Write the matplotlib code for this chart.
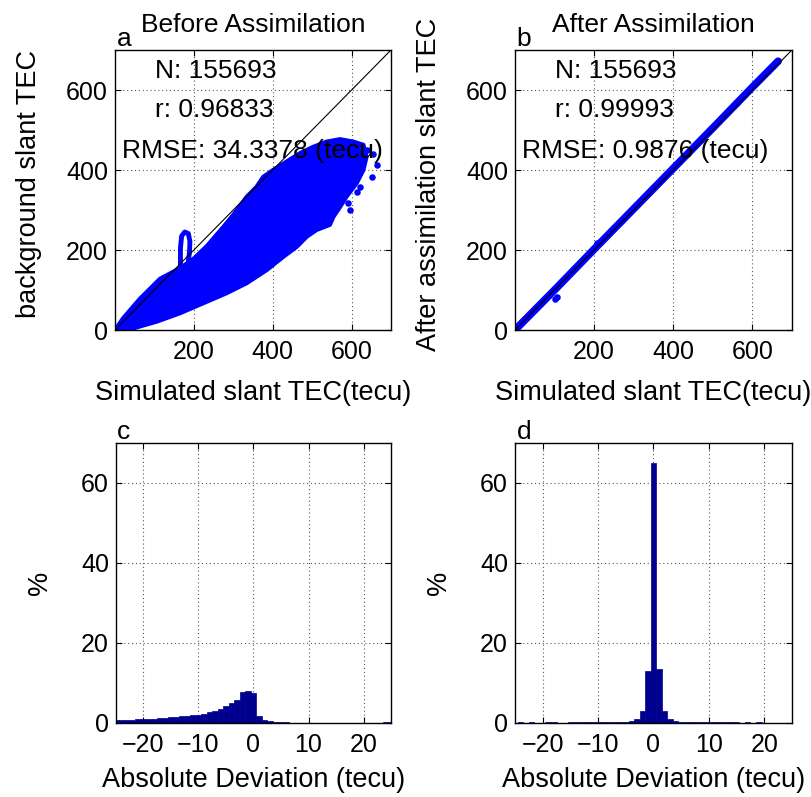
import numpy as np
import matplotlib
matplotlib.use("Agg")
import matplotlib.pyplot as plt

plt.rcParams['font.family'] = ['Liberation Sans', 'DejaVu Sans']

# ---------------- data ----------------
# Panel a: outline of the dense point cloud (simulated, background)
cloud_a_x = [0, 21, 63, 114, 156, 185, 199, 233, 275, 300, 334, 359, 376, 401, 435, 469, 503,
             537, 571, 604, 630, 638, 630, 613, 587, 571, 554, 545, 511, 486, 461, 427,
             385, 334, 283, 224, 165, 106, 46]
cloud_a_y = [0, 30, 78, 128, 150, 168, 178, 210, 258, 288, 333, 358, 383, 400, 421, 442, 458,
             471, 477, 471, 463, 433, 400, 367, 333, 308, 283, 263, 250, 233, 208, 183,
             150, 117, 92, 67, 42, 21, 4]
# loop feature near x~180
loop_a_x = [166, 166, 169, 177, 186, 190, 189, 186]
loop_a_y = [160, 205, 235, 245, 241, 222, 195, 172]
# isolated points on the edge of the cloud
out_a_x = [664, 651, 621, 613, 592, 604, 638, 655, 597, 578]
out_a_y = [412, 383, 358, 346, 317, 412, 450, 440, 300, 330]

# Panel b: narrow band along the 1:1 line
band_b_x = [0, 100, 200, 300, 400, 500, 600, 665]
band_b_y = [0, 100, 202, 303, 404, 505, 607, 672]
bump_b_x = [106, 100, 207, 469, 560, 640]
bump_b_y = [83, 78, 217, 475, 568, 648]

stats_a = ["N: 155693", "r: 0.96833", "RMSE: 34.3378 (tecu)"]
stats_b = ["N: 155693", "r: 0.99993", "RMSE: 0.9876 (tecu)"]

# Histograms (percent per 1-tecu bin)
bin_centers = list(range(-25, 26))
hist_c = [0.8, 0.8, 0.8, 0.8, 1.05, 1.1, 1.1, 1.1, 1.25, 1.25,
          1.5, 1.5, 1.8, 1.8, 2.1, 2.1, 2.3, 2.7, 3.0, 3.6,
          4.3, 5.0, 5.75, 7.75, 8.0, 7.5, 1.7, 0.83, 0.4, 0.25,
          0.25, 0.25, 0.1, 0.1, 0.1, 0.1, 0.1, 0.1, 0.1, 0.1,
          0.1, 0.1, 0.1, 0.1, 0.0, 0.05, 0.05, 0.05, 0.05, 0.25, 0.25]
hist_d = [0.0, 0.3, 0.0, 0.3, 0.0, 0.0, 0.3, 0.3, 0.0, 0.0,
          0.2, 0.2, 0.2, 0.2, 0.2, 0.2, 0.2, 0.2, 0.2, 0.2,
          0.2, 0.5, 1.0, 2.9, 12.9, 65.0, 13.6, 2.9, 1.0, 0.5,
          0.2, 0.2, 0.2, 0.2, 0.2, 0.2, 0.2, 0.2, 0.2, 0.2,
          0.2, 0.0, 0.2, 0.0, 0.2, 0.0, 0.0, 0.0, 0.0, 0.0, 0.0]

# ---------------- figure ----------------
W, H = 812, 797
fig = plt.figure(figsize=(W / 100, H / 100), dpi=100)

def px_axes(left, top, right, bottom):
    return fig.add_axes([left / W, 1 - bottom / H, (right - left) / W, (bottom - top) / H])

ax_a = px_axes(115, 50, 391, 330)
ax_b = px_axes(515, 50, 792, 330)
ax_c = px_axes(116, 443, 391, 723)
ax_d = px_axes(515, 443, 792, 723)

BLUE = (0, 0, 1)
NAVY = '#00008F'
TICK_FS = 18
LABEL_FS = 19.5
TITLE_FS = 19
ANN_FS = 19

def style(ax):
    ax.grid(True, linestyle=(0, (1, 2.5)), linewidth=0.8, color='0.35')
    ax.set_axisbelow(True)
    ax.tick_params(direction='in', length=4, width=0.8, top=True, right=True,
                   labelsize=TICK_FS, pad=7)
    ax.tick_params(axis='y', pad=5)
    for s in ax.spines.values():
        s.set_linewidth(1.0)

# ---- panel a ----
ax_a.fill(cloud_a_x, cloud_a_y, color=BLUE, lw=3, joinstyle='round', zorder=2)
ax_a.plot(loop_a_x, loop_a_y, color=BLUE, lw=3.5, solid_capstyle='round', zorder=2)
ax_a.scatter(out_a_x, out_a_y, s=22, color=BLUE, zorder=2, linewidths=0)
ax_a.plot([0, 700], [0, 700], color='k', lw=0.8, zorder=3)

# ---- panel b ----
ax_b.plot(band_b_x, band_b_y, color=BLUE, lw=5.5, solid_capstyle='round', zorder=2)
ax_b.scatter(bump_b_x, bump_b_y, s=22, color=BLUE, zorder=2, linewidths=0)
ax_b.plot([0, 700], [0, 700], color='k', lw=0.8, zorder=3)

ann_x = [102, 102, 17]
ann_y = [629, 532, 429]
for ax, stats in ((ax_a, stats_a), (ax_b, stats_b)):
    for t, x, y in zip(stats, ann_x, ann_y):
        ax.text(x, y, t, fontsize=ANN_FS, ha='left', va='baseline', zorder=5)
    ax.set_xlim(0, 700)
    ax.set_ylim(0, 700)
    ax.set_xticks([200, 400, 600])
    ax.set_yticks([0, 200, 400, 600])
    style(ax)
    ax.set_xlabel("Simulated slant TEC(tecu)", fontsize=LABEL_FS)
    ax.xaxis.set_label_coords(0.5, -0.25)
    ax.xaxis.label.set_va('baseline')

ax_a.set_title("Before Assimilation", fontsize=TITLE_FS, pad=13)
ax_b.set_title("After Assimilation", fontsize=TITLE_FS, pad=13)
ax_a.set_ylabel("background slant TEC", fontsize=LABEL_FS)
ax_b.set_ylabel("After assimilation slant TEC", fontsize=LABEL_FS)
for ax in (ax_a, ax_b):
    ax.yaxis.set_label_coords(-0.312, 0.52)
    ax.yaxis.label.set_va('center')

# ---- histograms ----
for ax, h in ((ax_c, hist_c), (ax_d, hist_d)):
    ax.bar(bin_centers, h, width=1.0, color=NAVY, edgecolor=NAVY, linewidth=0.5, zorder=2)
    ax.set_xlim(-25, 25)
    ax.set_ylim(0, 70)
    ax.set_xticks([-20, -10, 0, 10, 20])
    ax.set_yticks([0, 20, 40, 60])
    style(ax)
    ax.set_xlabel("Absolute Deviation (tecu)", fontsize=LABEL_FS)
    ax.xaxis.set_label_coords(0.5, -0.228)
    ax.xaxis.label.set_va('baseline')
    ax.set_ylabel("%", fontsize=LABEL_FS)
    ax.yaxis.set_label_coords(-0.276, 0.5)
    ax.yaxis.label.set_va('center')

for ax, letter in ((ax_a, 'a'), (ax_b, 'b'), (ax_c, 'c'), (ax_d, 'd')):
    ax.text(0.005, 1.015, letter, transform=ax.transAxes, fontsize=ANN_FS,
            ha='left', va='baseline')

fig.savefig("out.png", dpi=100)
